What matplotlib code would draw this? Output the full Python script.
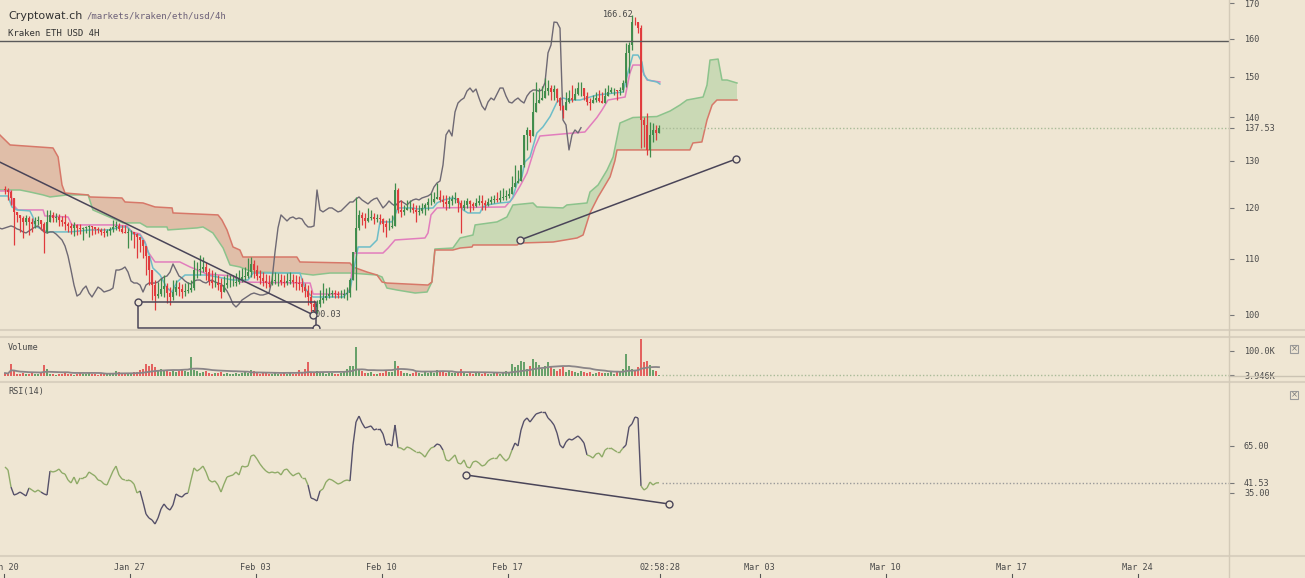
import numpy as np
import pandas as pd
import matplotlib
matplotlib.use("Agg")
import matplotlib.pyplot as plt
from matplotlib.collections import LineCollection
from matplotlib.lines import Line2D
from matplotlib.patches import Rectangle

W, H = 1305, 578
BG = "#efe6d3"
GREEN = "#3f8c4b"
RED = "#e03a3c"
CYAN = "#6dbdc8"
PINK = "#e27dbd"
SPAN_A = "#8cc38c"
SPAN_B = "#d77869"
FILL_UP = "#cad9b5"
FILL_DN = "#e0bea8"
CHIKOU = "#6e6974"
DRAW = "#4a4558"
TXT = "#4a4a4a"
MONO = "DejaVu Sans Mono"
FS = 6.1

# ---- 4h candles, Kraken ETH/USD, candle 0 opens Jan 20 00:00 ----
open0 = 124.0
close = [
    123.7, 123.28, 122.03, 119.17, 118.56, 117.95, 117.16, 117.95, 117.16, 116.76,
    117.35, 117.55, 116.76, 115.18, 117.16, 118.56, 117.95, 118.15, 117.55, 117.16,
    116.76, 116.36, 115.97, 116.56, 115.97, 115.77, 115.97, 116.16, 116.36, 116.16,
    115.77, 115.57, 115.18, 114.98, 115.37, 115.77, 116.16, 116.36, 115.77, 115.18,
    114.98, 115.18, 115.18, 114.78, 114.2, 113.61, 112.46, 110.56, 107.95, 105.23,
    103.28, 103.63, 104.52, 105.05, 103.81, 103.11, 103.99, 104.87, 104.52, 103.99,
    104.16, 104.34, 104.69, 107.95, 107.95, 108.14, 108.51, 107.58, 105.95, 105.59,
    105.59, 105.23, 103.99, 105.23, 105.59, 105.59, 105.59, 105.77, 106.31, 106.68,
    106.86, 107.58, 109.07, 107.95, 106.86, 106.49, 105.95, 105.59, 105.41, 105.95,
    106.13, 106.13, 105.77, 105.59, 105.95, 106.13, 105.77, 105.59, 105.41, 104.87,
    104.16, 103.11, 101.89, 101.37, 101.89, 102.58, 102.93, 103.28, 103.63, 103.81,
    103.63, 103.46, 103.46, 103.63, 103.81, 106.13, 111.31, 115.97, 118.56, 117.95,
    117.35, 117.95, 118.15, 117.75, 117.95, 117.75, 116.76, 116.16, 116.16, 116.36,
    123.7, 119.57, 119.17, 119.57, 119.98, 119.98, 119.57, 119.17, 119.37, 119.98,
    120.59, 121.2, 121.2, 121.82, 122.24, 121.62, 121.2, 120.8, 121.41, 121.82,
    122.03, 121.0, 119.98, 120.59, 121.41, 120.8, 120.39, 121.0, 121.41, 121.0,
    120.59, 121.2, 121.62, 121.82, 121.62, 122.03, 122.24, 122.45, 122.86, 124.34,
    125.18, 125.61, 129.08, 135.84, 137.0, 135.6, 141.25, 143.43, 144.16, 144.65,
    146.38, 147.13, 146.13, 146.88, 144.65, 142.7, 141.73, 143.67, 144.65, 144.16,
    145.64, 147.13, 147.13, 145.14, 143.67, 143.43, 144.16, 144.65, 143.92, 143.43,
    145.14, 146.13, 146.63, 146.63, 146.38, 146.63, 148.5, 156.2, 158.3, 164.6,
    164.5, 162.9, 139.34, 138.16, 132.42, 135.84, 137.0, 136.3, 137.53,
]
high = [
    124.55, 124.13, 123.7, 122.03, 118.96, 118.56, 118.36, 118.56, 118.36, 117.95,
    118.15, 118.36, 117.55, 117.16, 119.57, 119.57, 119.17, 118.96, 118.76, 118.36,
    118.76, 117.16, 116.96, 117.16, 116.76, 116.76, 116.16, 116.36, 116.56, 115.97,
    116.16, 116.16, 115.97, 115.97, 115.77, 116.16, 117.55, 117.35, 116.96, 116.56,
    116.56, 115.97, 115.57, 114.98, 114.98, 114.2, 113.61, 111.69, 109.44, 107.04,
    106.13, 105.77, 106.49, 107.04, 105.59, 104.87, 106.13, 106.13, 105.77, 105.41,
    105.59, 105.77, 106.13, 109.81, 109.44, 110.75, 110.37, 109.44, 108.32, 107.95,
    107.58, 107.04, 106.49, 106.86, 107.22, 107.04, 107.04, 107.4, 107.95, 108.32,
    108.51, 110.19, 110.37, 109.81, 108.88, 107.95, 107.58, 107.22, 107.04, 107.4,
    107.58, 107.4, 107.22, 107.04, 107.4, 107.58, 107.22, 107.04, 106.86, 106.49,
    105.59, 105.23, 104.34, 102.58, 102.58, 104.34, 105.59, 104.69, 104.87, 104.34,
    104.34, 104.16, 104.34, 104.52, 104.87, 106.49, 111.31, 122.24, 119.57, 119.17,
    118.96, 119.98, 119.57, 118.96, 118.76, 118.76, 117.95, 117.55, 117.95, 118.56,
    125.18, 124.13, 121.62, 120.59, 121.62, 121.62, 121.0, 120.59, 120.59, 121.0,
    121.0, 122.03, 123.07, 123.28, 125.18, 123.7, 122.66, 122.66, 122.45, 122.66,
    123.28, 122.03, 121.62, 121.62, 122.03, 121.62, 121.2, 122.03, 122.66, 122.66,
    121.62, 122.03, 122.45, 122.66, 123.28, 123.7, 124.13, 123.7, 124.13, 126.68,
    129.08, 127.98, 129.08, 134.69, 137.7, 137.0, 146.13, 148.6, 147.13, 147.6,
    149.7, 149.15, 147.88, 147.88, 147.13, 144.9, 142.94, 146.13, 146.63, 147.88,
    147.13, 148.6, 148.6, 147.13, 146.13, 144.65, 145.39, 146.13, 146.63, 146.13,
    147.13, 147.88, 147.4, 147.13, 146.63, 147.4, 149.15, 158.8, 159.1, 166.62,
    166.0, 164.3, 163.75, 140.05, 141.0, 138.87, 138.6, 138.16, 138.16,
]
low = [
    122.86, 121.62, 120.59, 112.65, 117.16, 115.18, 114.0, 116.56, 114.58, 115.18,
    115.97, 116.56, 115.57, 111.12, 114.98, 117.55, 117.16, 117.16, 116.36, 116.36,
    115.57, 115.18, 114.78, 114.39, 114.58, 114.78, 113.61, 114.98, 114.2, 114.58,
    114.78, 114.98, 114.58, 114.2, 114.39, 114.58, 115.18, 115.57, 115.37, 114.98,
    114.98, 112.07, 113.61, 112.07, 110.19, 111.31, 110.19, 107.04, 105.23, 102.58,
    100.85, 102.93, 103.28, 103.11, 102.06, 101.72, 102.58, 103.46, 103.28, 102.93,
    103.28, 103.81, 103.99, 104.34, 106.49, 107.04, 107.58, 106.13, 105.23, 104.69,
    104.87, 104.34, 102.93, 104.34, 104.69, 104.87, 105.05, 105.05, 105.41, 105.77,
    106.13, 106.49, 106.68, 106.49, 106.13, 105.41, 105.05, 104.69, 104.87, 105.23,
    105.41, 105.05, 105.23, 104.87, 105.23, 105.41, 104.87, 104.34, 104.34, 103.99,
    103.11, 101.72, 99.66, 100.51, 100.34, 101.37, 102.06, 102.58, 102.93, 103.11,
    102.93, 102.93, 102.93, 102.93, 102.58, 103.11, 106.49, 104.34, 115.57, 116.56,
    115.97, 117.16, 117.55, 116.76, 117.16, 116.76, 115.18, 114.2, 115.57, 115.97,
    116.56, 118.96, 118.15, 118.56, 119.57, 119.17, 118.96, 117.16, 118.56, 118.96,
    118.56, 119.57, 120.59, 121.0, 122.03, 121.2, 120.18, 119.57, 119.98, 120.59,
    121.0, 119.17, 114.98, 119.57, 119.98, 119.17, 119.57, 120.18, 120.59, 119.57,
    119.57, 120.39, 120.8, 121.0, 121.2, 121.2, 121.62, 121.62, 122.03, 123.07,
    124.76, 125.4, 125.82, 128.64, 132.42, 134.23, 137.45, 142.46, 143.43, 144.65,
    146.13, 145.39, 144.16, 144.16, 143.67, 141.73, 139.8, 142.2, 143.43, 143.67,
    144.16, 145.39, 145.1, 144.16, 142.94, 141.73, 143.43, 143.67, 143.67, 143.43,
    144.9, 145.39, 145.9, 145.39, 144.16, 145.39, 146.13, 147.4, 150.9, 156.95,
    163.75, 161.5, 132.87, 133.1, 131.3, 130.86, 134.23, 134.69, 136.3,
]
# volume in thousands
volume = [
    12, 8, 48, 20, 10, 8, 14, 10, 8, 12,
    10, 8, 14, 45, 30, 10, 8, 6, 10, 8,
    12, 8, 10, 6, 8, 12, 10, 8, 14, 10,
    8, 6, 10, 12, 8, 10, 12, 20, 18, 10,
    8, 10, 12, 15, 18, 24, 30, 50, 40, 48,
    35, 25, 30, 20, 26, 18, 22, 15, 20, 28,
    22, 18, 76, 25, 20, 14, 18, 22, 12, 10,
    14, 12, 18, 10, 12, 8, 10, 12, 8, 14,
    18, 14, 24, 20, 12, 10, 14, 12, 10, 8,
    12, 10, 8, 14, 10, 12, 8, 10, 24, 12,
    30, 56, 18, 12, 20, 14, 16, 10, 14, 12,
    10, 8, 14, 20, 30, 40, 42, 116, 30, 20,
    14, 12, 18, 10, 8, 12, 14, 22, 18, 16,
    60, 40, 20, 14, 12, 10, 14, 18, 12, 10,
    16, 12, 18, 14, 24, 20, 18, 12, 16, 14,
    12, 16, 30, 14, 10, 12, 8, 12, 14, 10,
    12, 8, 10, 14, 12, 10, 16, 22, 14, 50,
    35, 45, 60, 55, 30, 40, 70, 58, 45, 30,
    40, 55, 36, 28, 20, 30, 35, 18, 24, 20,
    16, 14, 20, 18, 12, 16, 10, 14, 18, 12,
    14, 12, 16, 10, 20, 18, 30, 88, 40, 30,
    25, 35, 148, 55, 60, 45, 25, 20, 3.946,
]
rsi = [
    51.6, 49.7, 38.8, 33.7, 34.4, 35.6, 34.4, 33.1, 38.2, 36.9,
    35.6, 36.9, 35.6, 34.4, 33.7, 49.0, 48.4, 49.0, 50.3, 47.8,
    47.1, 43.3, 41.4, 45.2, 40.7, 44.6, 44.6, 45.2, 48.4, 47.1,
    45.9, 43.3, 42.7, 40.7, 40.1, 44.6, 49.0, 52.2, 46.5, 43.9,
    43.3, 43.3, 42.7, 40.7, 35.0, 36.3, 29.3, 21.6, 19.0, 17.8,
    15.2, 19.0, 24.8, 28.0, 25.4, 24.1, 27.3, 34.4, 33.1, 32.4,
    34.4, 35.0, 43.3, 51.0, 49.0, 50.3, 52.2, 48.4, 43.3, 42.0,
    42.7, 40.1, 35.6, 40.7, 45.2, 45.9, 46.5, 48.4, 46.5, 52.2,
    51.6, 52.2, 58.6, 59.3, 56.7, 53.5, 51.0, 49.0, 47.8, 48.4,
    47.8, 48.4, 46.5, 49.7, 50.3, 47.8, 45.9, 47.1, 47.8, 44.6,
    44.6, 40.1, 31.8, 31.1, 29.9, 36.3, 37.6, 42.0, 43.9, 43.3,
    42.0, 40.7, 41.4, 42.7, 43.3, 42.7, 65.6, 80.3, 84.1, 79.7,
    76.5, 77.1, 77.8, 75.2, 75.9, 75.9, 72.7, 65.6, 66.3, 65.0,
    78.4, 64.0, 63.7, 62.4, 64.4, 63.7, 62.4, 61.2, 61.2, 59.9,
    57.9, 61.2, 63.7, 64.4, 66.3, 65.6, 62.4, 56.1, 55.4, 57.3,
    59.3, 54.1, 53.5, 56.1, 51.6, 51.0, 54.8, 55.4, 54.1, 52.2,
    52.9, 55.4, 56.7, 57.3, 57.3, 59.9, 57.3, 55.4, 57.3, 62.4,
    66.9, 65.0, 75.2, 81.0, 82.9, 80.3, 82.9, 85.4, 86.1, 86.7,
    86.7, 82.9, 81.0, 78.4, 73.3, 65.6, 63.7, 67.6, 69.5, 68.8,
    70.1, 71.4, 69.5, 66.9, 59.3, 58.6, 57.3, 59.9, 60.5, 57.9,
    62.4, 63.7, 63.7, 62.4, 61.2, 61.2, 63.7, 65.6, 77.1, 79.1,
    83.5, 82.9, 39.5, 36.9, 38.2, 42.0, 40.1, 41.4, 41.53,
]

# ---- Ichimoku lines, (candle index, price) break points ----
tenkan = [(-1.7, 122.45), (1, 122.45), (2.3, 120.18), (4, 119.57), (8.3, 119.37), (9.3, 118.15),
          (10, 116.36), (14, 115.18), (21.7, 115.18), (28.3, 115.57), (35, 115.57), (38.3, 116.16),
          (40.7, 116.16), (42.7, 114.78), (45, 114.58), (46.7, 113.03), (48.3, 110.37), (49.3, 108.32),
          (50.7, 107.58), (51.7, 107.04), (54, 104.69), (55.7, 103.99), (57.3, 105.77), (60, 107.04),
          (67.3, 107.04), (76, 106.13), (81, 106.13), (82.7, 107.4), (98.3, 107.4), (100, 104.69),
          (101.7, 103.46), (102.7, 103.11), (112.7, 103.11), (115, 104.34), (116.7, 109.25),
          (117.7, 112.27), (121.7, 112.27), (124, 113.61), (125, 117.16), (129, 117.16), (130, 118.56),
          (131, 119.98), (136, 119.98), (137.3, 119.77), (142.7, 119.98), (144, 121.0), (146, 121.62),
          (149.3, 122.03), (151, 121.62), (152.7, 119.57), (154.3, 118.96), (158.3, 118.96),
          (159.3, 120.18), (160.7, 120.59), (165, 121.0), (168.3, 121.2), (169.3, 122.24),
          (170.7, 125.18), (172.3, 126.47), (173.3, 129.74), (175, 130.86), (177.3, 136.3),
          (179.3, 137.7), (181.7, 140.17), (184, 143.67), (186, 144.65), (188.3, 144.16),
          (191.7, 144.16), (197.3, 145.39), (206, 146.13), (207.7, 151.18), (209.3, 155.62),
          (211, 155.62), (212.3, 153.77), (213, 150.42), (214.3, 149.15), (217.3, 148.65), (218.3, 148.14)]
kijun = [(-1.7, 123.49), (1.7, 123.49), (2.7, 120.59), (4.3, 119.57), (12.7, 119.57), (13.3, 118.36),
         (21, 118.15), (22.3, 116.56), (36, 116.56), (40.7, 116.36), (42.3, 115.18), (45, 114.78),
         (46.7, 113.22), (47.7, 111.31), (50, 109.44), (58.3, 109.44), (61.7, 108.51), (67.3, 107.22),
         (76, 106.86), (78.3, 105.77), (101.7, 105.59), (102.7, 103.63), (114, 103.63), (115, 104.69),
         (116.3, 111.12), (126, 111.12), (127.7, 112.07), (130, 113.61), (140, 114.0), (141, 114.98),
         (142, 118.56), (144, 119.98), (166.7, 120.18), (169.3, 122.03), (171.7, 124.55), (174, 127.33),
         (176.7, 133.1), (178.3, 135.6), (193.3, 136.53), (197.3, 139.93), (199, 141.73), (201, 144.16),
         (206.7, 144.9), (208.3, 150.93), (209.3, 153.0), (211.7, 153.0), (212.7, 151.18), (214, 149.15),
         (218.3, 148.65)]
senkou_a = [(-1.7, 123.7), (5, 123.7), (8.3, 123.28), (12.7, 122.66), (15, 122.24), (20.7, 122.66),
            (27.7, 122.66), (29.3, 119.57), (39.3, 116.96), (45, 116.96), (47.3, 116.16), (54, 116.16),
            (54.3, 115.57), (64, 115.97), (66, 116.16), (69.3, 114.98), (72.7, 112.07), (75, 108.88),
            (78.3, 108.51), (82.7, 107.58), (97.3, 107.4), (102.7, 107.04), (108.3, 107.4), (115, 107.4),
            (124, 107.04), (125.7, 106.68), (127.3, 104.69), (130.7, 104.34), (136.7, 103.81),
            (140.7, 103.99), (142.3, 105.77), (143.3, 111.88), (149.3, 112.07), (151.7, 114.0),
            (156, 114.58), (156.7, 116.56), (164, 117.16), (167.3, 118.15), (169.3, 120.59), (176, 121.0),
            (177.3, 120.18), (186, 119.98), (187.3, 120.59), (194, 121.0), (195, 123.28), (197.7, 124.76),
            (200.7, 127.98), (202.7, 130.86), (205, 138.63), (209.3, 139.93), (217.3, 140.17),
            (221.7, 141.49), (225, 142.94), (227.3, 144.16), (232.7, 144.9), (234, 147.88), (235, 154.3),
            (237.7, 154.56), (239, 149.15), (240.7, 149.15), (244, 148.39)]
senkou_b = [(-1.7, 135.84), (1.7, 133.55), (16, 132.87), (17.7, 130.86), (19, 124.76), (20, 123.07),
            (27.7, 122.66), (28.3, 122.24), (39, 122.03), (40, 121.2), (46, 121.0), (50, 120.18),
            (55.7, 119.98), (56, 118.96), (71, 118.56), (72.3, 117.55), (74, 115.57), (76, 112.27),
            (78.3, 111.69), (79.3, 110.37), (97.3, 110.37), (98.3, 109.44), (115, 109.25), (116, 108.51),
            (120.7, 107.58), (124, 107.04), (125.7, 105.77), (127.3, 105.59), (141, 105.23),
            (142.3, 105.77), (143.3, 111.69), (149.3, 111.69), (151.7, 112.07), (155.7, 112.27),
            (156, 112.65), (170.7, 112.65), (171.7, 113.03), (182.7, 113.22), (190.7, 114.0),
            (192.7, 114.58), (195, 118.96), (197.7, 122.24), (199.7, 124.34), (201.7, 126.5),
            (203.3, 130.0), (204, 132.42), (228.3, 132.42), (229.3, 134.0), (232.3, 134.23),
            (234, 139.34), (235.7, 142.94), (237.3, 144.16), (244, 144.16)]

# drawings (candle index, value)
trend_down = [(-1.7, 129.7), (102.7, 100.03)]
box = [(44.3, 102.24), (103.7, 97.81)]
trend_up = [(171.7, 113.61), (243.7, 130.4)]
rsi_trend = [(153.7, 46.5), (221.3, 28.0)]
level_line = 159.3
last_price = 137.53
last_volume = 3.946
last_rsi = 41.53

tick_days = [0, 7, 14, 21, 28, 42, 49, 56, 63]
tick_names = ["Jan 20", "Jan 27", "Feb 03", "Feb 10", "Feb 17", "Mar 03", "Mar 10", "Mar 17", "Mar 24"]
now_label = "02:58:28"


def bar_day(k):
    return (np.asarray(k, dtype=float) + 0.5) / 6.0


def split(points):
    a = np.array(points, dtype=float)
    return bar_day(a[:, 0]), a[:, 1]


def rect(top, bottom):
    return [0, 1 - bottom / H, 1229 / W, (bottom - top) / H]


fig = plt.figure(figsize=(W / 100, H / 100), dpi=100, facecolor=BG)
ax = fig.add_axes(rect(0, 330))
axv = fig.add_axes(rect(337, 382), sharex=ax)
axr = fig.add_axes(rect(383, 557), sharex=ax)
axt = fig.add_axes(rect(557, 578), sharex=ax)

XMIN, XMAX = -3.5 / 18, (1229 - 3.5) / 18
for a in (ax, axv, axr, axt):
    a.set_facecolor("none")
    for s in a.spines.values():
        s.set_visible(False)
    a.tick_params(axis="x", which="both", bottom=False, labelbottom=False)
    a.yaxis.tick_right()
    a.tick_params(axis="y", which="both", direction="out", length=3.6, width=0.8,
                  color="#777777", pad=7.2, labelsize=FS, labelcolor=TXT)
ax.set_xlim(XMIN, XMAX)

# ---------------- price panel ----------------
ax.set_yscale("log")
ax.set_ylim(97.48, 170.9)
yt = [100, 110, 120, 130, 140, 150, 160, 170]
ax.set_yticks(yt + [last_price])
ax.set_yticklabels([str(v) for v in yt] + [f"{last_price:.2f}"], family=MONO, fontsize=FS, color=TXT)
ax.yaxis.set_minor_locator(matplotlib.ticker.NullLocator())

# cloud
ta, va = split(senkou_a)
tb, vb = split(senkou_b)
grid = np.linspace(ta.min(), ta.max(), 1500)
ga = np.interp(grid, ta, va)
gb = np.interp(grid, tb, vb)
ax.fill_between(grid, ga, gb, where=ga >= gb, color=FILL_UP, lw=0, interpolate=True, zorder=1)
ax.fill_between(grid, ga, gb, where=ga < gb, color=FILL_DN, lw=0, interpolate=True, zorder=1)
ax.plot(ta, va, color=SPAN_A, lw=1.1, zorder=2)
ax.plot(tb, vb, color=SPAN_B, lw=1.1, zorder=2)

tt, vt = split(kijun)
ax.plot(tt, vt, color=PINK, lw=1.1, zorder=3)
tt, vt = split(tenkan)
ax.plot(tt, vt, color=CYAN, lw=1.1, zorder=3)

close_a = np.array(close)
idx = np.arange(len(close_a))
ax.plot(bar_day(idx - 26), close_a, color=CHIKOU, lw=1.0, zorder=3)

opn = np.r_[open0, close_a[:-1]]
up = close_a >= opn
cols = np.where(up, GREEN, RED)
t = bar_day(idx)
top = np.maximum(np.array(high), np.maximum(opn, close_a))
bot = np.minimum(np.array(low), np.minimum(opn, close_a))
ax.vlines(t, bot, top, colors=cols, lw=0.9, zorder=4)
ax.vlines(t, np.minimum(opn, close_a), np.maximum(opn, close_a), colors=cols, lw=1.4, zorder=4)

ax.axhline(level_line, color="#5a5a5a", lw=1.0, zorder=5)
ax.hlines(last_price, bar_day(219), XMAX, colors="#a9bb98", lw=1.0, linestyles=(0, (1, 1.5)), zorder=2)

mk = dict(marker="o", ms=5, mfc=BG, mec=DRAW, mew=1.0, zorder=7, ls="none")
tx, vx = split(trend_down)
ax.plot(tx, vx, color=DRAW, lw=1.1, zorder=6)
ax.text(tx[1] - 0.15, vx[1], f"{vx[1]:.2f}", family=MONO, fontsize=FS, color=TXT,
        ha="left", va="center", zorder=6)
ax.plot(tx[1], vx[1], **mk)
bx, bv = split(box)
ax.plot([bx[0], bx[1], bx[1], bx[0], bx[0]], [bv[0], bv[0], bv[1], bv[1], bv[0]],
        color=DRAW, lw=1.1, zorder=6)
ax.plot(bx, bv, **mk)
ux, uv = split(trend_up)
ax.plot(ux, uv, color=DRAW, lw=1.1, zorder=6)
ax.plot(ux, uv, **mk)

imax = int(np.argmax(high))
ax.text(bar_day(imax) + 0.02, high[imax], f"{high[imax]:.2f}", family=MONO, fontsize=FS,
        color=TXT, ha="right", va="center", zorder=6)

fig.text(8 / W, 1 - 16 / H, "Cryptowat.ch", family="DejaVu Sans", fontsize=8.0,
         color="#333333", va="center")
fig.text(87 / W, 1 - 16 / H, "/markets/kraken/eth/usd/4h", family=MONO, fontsize=6.5,
         color="#6c6078", va="center")
fig.text(8 / W, 1 - 33 / H, "Kraken ETH USD 4H", family=MONO, fontsize=6.5, color="#333333",
         va="center")

# ---------------- volume panel ----------------
vol = pd.Series(volume, dtype=float)
axv.set_ylim(-24, 156)
axv.vlines(t, 0, vol.values, colors=cols, lw=1.1, zorder=3)
axv.plot(t, vol.rolling(20, min_periods=1).mean().values, color="#8a8588", lw=1.3, zorder=4)
axv.hlines(last_volume, bar_day(219), XMAX, colors="#a9bb98", lw=1.0, linestyles=(0, (1, 1.5)))
axv.set_yticks([100, last_volume])
axv.set_yticklabels(["100.0K", f"{last_volume:.3f}K"], family=MONO, fontsize=FS, color=TXT)
axv.text(8 / 1229, 0.72, "Volume", transform=axv.transAxes, family=MONO, fontsize=FS, color=TXT)

# ---------------- RSI panel ----------------
r = np.array(rsi)
axr.set_ylim(-5.85, 105.2)
pts = np.column_stack([t, r])
segs = np.stack([pts[:-1], pts[1:]], axis=1)
dark = (np.maximum(r[:-1], r[1:]) > 65) | (np.minimum(r[:-1], r[1:]) < 35)
axr.add_collection(LineCollection(segs, colors=np.where(dark, "#56516a", "#8fab68"), lw=1.0, zorder=3))
axr.hlines(last_rsi, bar_day(219), XMAX, colors="#9a9a9a", lw=1.0, linestyles=(0, (1, 1.5)))
rx, rv = split(rsi_trend)
axr.plot(rx, rv, color=DRAW, lw=1.1, zorder=5)
axr.plot(rx, rv, **mk)
axr.set_yticks([65, last_rsi, 35])
axr.set_yticklabels(["65.00", f"{last_rsi:.2f}", "35.00"], family=MONO, fontsize=FS, color=TXT)
axr.text(8 / 1229, 0.935, "RSI(14)", transform=axr.transAxes, family=MONO, fontsize=FS, color=TXT)

# ---------------- time axis ----------------
axt.set_ylim(0, 1)
axt.set_yticks([])
now_day = bar_day(218.33)
for d, name in list(zip(tick_days, tick_names)) + [(now_day, now_label)]:
    axt.text(d, 0.48, name, family=MONO, fontsize=FS, color=TXT, ha="center", va="center")
    axt.plot([d, d], [0, 0.17], color="#555555", lw=0.8)

# frame lines
for py in (330, 337, 382, 556):
    fig.add_artist(Line2D([0, 1], [1 - py / H] * 2, color="#d9d0bf", lw=1.5))
fig.add_artist(Line2D([1229 / W, 1229 / W], [0, 1], color="#d3cab8", lw=1.0))
fig.add_artist(Line2D([1229 / W, 1], [1 - 376 / H] * 2, color="#cbc3b3", lw=1.0))
for py in (349, 395):
    fig.add_artist(Rectangle(((1290) / W, 1 - (py + 4) / H), 8 / W, 8 / H, fill=False,
                             ec="#999999", lw=0.8))
    fig.text(1294 / W, 1 - py / H, "×", fontsize=6, color="#777777", ha="center", va="center")

fig.savefig("out.png", dpi=100, facecolor=BG)
